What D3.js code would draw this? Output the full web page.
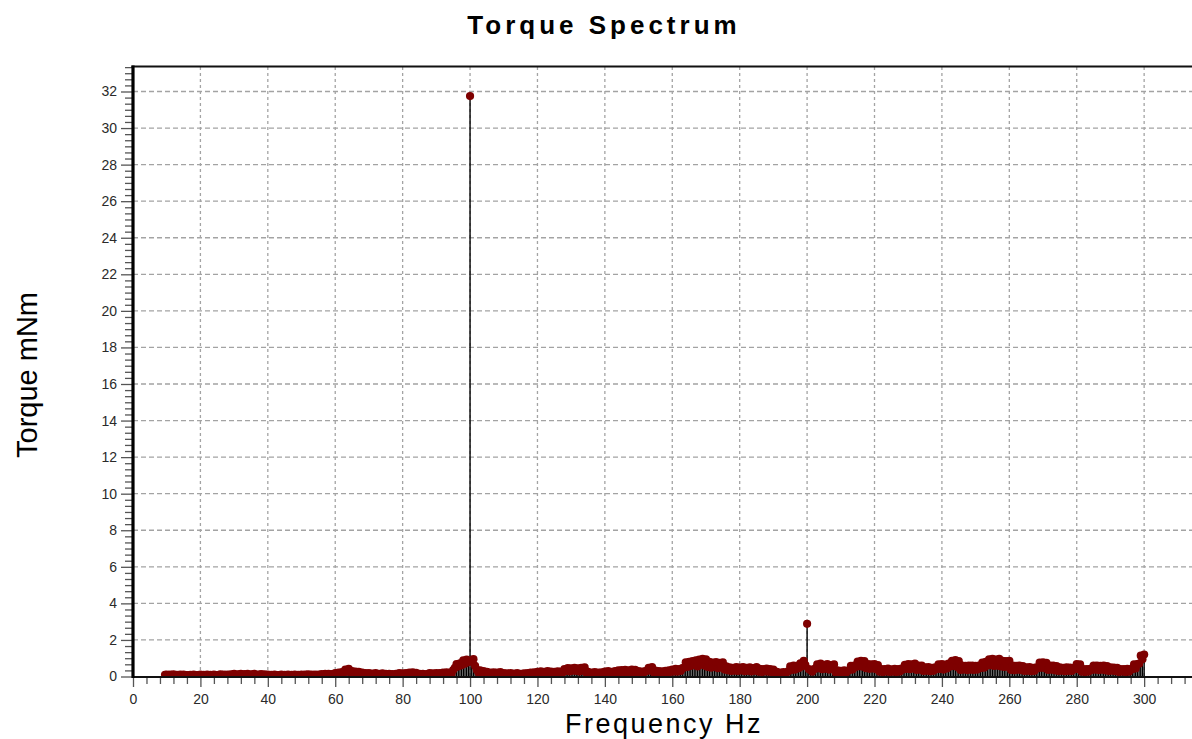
<!DOCTYPE html>
<html>
<head>
<meta charset="utf-8">
<script src="https://cdn.jsdelivr.net/npm/d3@7"></script>
<style>
  body { margin: 0; background: #fff; }
  svg { display: block; }
  text { font-family: "Liberation Sans", Arial, sans-serif; }
</style>
</head>
<body>
<svg id="chart" width="1192" height="739"></svg>
<script>
// Spectrum bins: uniform frequency grid starting at freqStart, spaced by freqStep (Hz)
const freqStart = 9.5;
const freqStep = 0.5;

// Torque magnitude per bin (mNm), one row = 10 Hz
const torqueMag = [
  0.09,0.11,0.06,0.10,0.07,0.12,0.05,0.09,0.08,0.11,0.06,0.10,0.07,0.08,0.05,0.09,0.07,0.10,0.06,0.08, //  9.5 - 19
  0.07,0.10,0.06,0.09,0.08,0.11,0.05,0.09,0.07,0.10,0.06,0.08,0.09,0.12,0.06,0.10,0.07,0.11,0.08,0.12, // 19.5 - 29
  0.09,0.14,0.07,0.12,0.10,0.15,0.08,0.13,0.09,0.14,0.07,0.12,0.10,0.15,0.08,0.11,0.09,0.13,0.07,0.12, // 29.5 - 39
  0.08,0.10,0.06,0.09,0.07,0.11,0.05,0.08,0.07,0.10,0.06,0.09,0.08,0.11,0.06,0.09,0.07,0.10,0.05,0.09, // 39.5 - 49
  0.08,0.11,0.07,0.10,0.09,0.12,0.06,0.10,0.08,0.11,0.07,0.10,0.09,0.13,0.08,0.14,0.10,0.15,0.09,0.13, // 49.5 - 59
  0.11,0.18,0.13,0.22,0.15,0.24,0.20,0.38,0.28,0.42,0.22,0.30,0.18,0.27,0.16,0.25,0.14,0.22,0.12,0.19, // 59.5 - 69
  0.12,0.18,0.10,0.16,0.11,0.19,0.09,0.15,0.10,0.17,0.08,0.14,0.09,0.15,0.10,0.13,0.08,0.14,0.11,0.18, // 69.5 - 79
  0.12,0.17,0.10,0.19,0.13,0.22,0.14,0.23,0.12,0.20,0.10,0.15,0.09,0.14,0.08,0.13,0.10,0.18,0.11,0.17, // 79.5 - 89
  0.12,0.19,0.10,0.18,0.14,0.22,0.12,0.23,0.15,0.21,0.13,0.35,0.48,0.68,0.55,0.72,0.62,0.88,0.70,0.92, // 89.5 - 99
  0.78,31.75,0.82,0.95,0.58,0.36,0.22,0.33,0.18,0.30,0.16,0.25,0.14,0.22,0.15,0.23,0.13,0.21,0.16,0.24, // 99.5 - 109
  0.12,0.18,0.10,0.17,0.13,0.19,0.09,0.16,0.11,0.18,0.10,0.15,0.12,0.17,0.10,0.19,0.13,0.22,0.14,0.23, // 109.5 - 119
  0.16,0.26,0.18,0.28,0.15,0.25,0.19,0.29,0.17,0.27,0.16,0.26,0.18,0.28,0.15,0.27,0.22,0.40,0.30,0.46, // 119.5 - 129
  0.28,0.44,0.32,0.48,0.30,0.45,0.27,0.47,0.33,0.50,0.20,0.26,0.15,0.22,0.14,0.24,0.16,0.21,0.13,0.23, // 129.5 - 139
  0.17,0.27,0.19,0.29,0.16,0.26,0.20,0.30,0.22,0.33,0.21,0.35,0.24,0.37,0.22,0.34,0.25,0.38,0.23,0.36, // 139.5 - 149
  0.20,0.30,0.18,0.27,0.21,0.29,0.30,0.48,0.33,0.52,0.22,0.32,0.20,0.30,0.19,0.28,0.21,0.31,0.22,0.33, // 149.5 - 159
  0.25,0.38,0.27,0.42,0.26,0.40,0.30,0.46,0.48,0.78,0.52,0.80,0.58,0.84,0.62,0.88,0.55,0.92,0.66,0.96, // 159.5 - 169
  0.60,0.94,0.52,0.80,0.48,0.76,0.55,0.79,0.45,0.74,0.50,0.78,0.38,0.55,0.34,0.50,0.30,0.48,0.32,0.52, // 169.5 - 179
  0.30,0.49,0.33,0.52,0.29,0.47,0.31,0.50,0.28,0.46,0.32,0.51,0.27,0.42,0.25,0.40,0.28,0.43,0.26,0.41, // 179.5 - 189
  0.24,0.38,0.16,0.25,0.14,0.22,0.15,0.24,0.13,0.23,0.30,0.55,0.36,0.60,0.38,0.58,0.45,0.72,0.55,0.86, // 189.5 - 199
  0.62,2.88,0.40,0.35,0.26,0.41,0.42,0.66,0.45,0.70,0.40,0.64,0.43,0.68,0.38,0.62,0.41,0.66,0.22,0.34, // 199.5 - 209
  0.20,0.31,0.22,0.33,0.19,0.30,0.35,0.58,0.38,0.60,0.52,0.82,0.56,0.86,0.54,0.84,0.45,0.68,0.42,0.66, // 209.5 - 219
  0.44,0.68,0.40,0.62,0.26,0.41,0.24,0.40,0.27,0.43,0.25,0.39,0.26,0.42,0.24,0.40,0.27,0.43,0.38,0.64, // 219.5 - 229
  0.42,0.68,0.40,0.66,0.44,0.70,0.36,0.59,0.38,0.60,0.30,0.50,0.32,0.52,0.29,0.48,0.31,0.50,0.40,0.66, // 229.5 - 239
  0.42,0.68,0.38,0.65,0.44,0.70,0.55,0.86,0.58,0.90,0.52,0.84,0.36,0.60,0.38,0.58,0.35,0.59,0.37,0.60, // 239.5 - 249
  0.36,0.58,0.38,0.60,0.46,0.76,0.48,0.80,0.60,0.94,0.62,0.96,0.58,0.92,0.60,0.96,0.55,0.86,0.52,0.84, // 249.5 - 259
  0.54,0.86,0.36,0.60,0.34,0.58,0.37,0.60,0.35,0.57,0.30,0.50,0.32,0.52,0.29,0.48,0.31,0.50,0.45,0.76, // 259.5 - 269
  0.48,0.78,0.46,0.74,0.36,0.59,0.38,0.60,0.34,0.57,0.30,0.50,0.32,0.48,0.29,0.50,0.31,0.49,0.30,0.48, // 269.5 - 279
  0.42,0.68,0.40,0.66,0.26,0.41,0.24,0.40,0.27,0.42,0.36,0.59,0.38,0.60,0.35,0.58,0.37,0.59,0.34,0.57, // 279.5 - 289
  0.30,0.50,0.32,0.49,0.29,0.48,0.25,0.41,0.27,0.40,0.24,0.42,0.26,0.41,0.40,0.66,0.44,0.68,0.70,1.14, // 289.5 - 299
  0.95,1.20                                                                                            // 299.5 - 300
];

// Axis ticks and labels
const xMajorTicks = [0,20,40,60,80,100,120,140,160,180,200,220,240,260,280,300];
const xMinorStep = 4;
const yMajorTicks = [0,2,4,6,8,10,12,14,16,18,20,22,24,26,28,30,32];
const yMinorPerMajor = 6;

const chartTitle = "Torque Spectrum";
const xAxisTitle = "Frequency Hz";
const yAxisTitle = "Torque mNm";

// Layout
const W = 1192, H = 739;
const plotLeft = 133, plotTop = 67, plotBottom = 676.5, plotRight = W;
const xMax = 314.2, yMax = 33.34;

const x = d3.scaleLinear().domain([0, xMax]).range([plotLeft, plotRight]);
const y = d3.scaleLinear().domain([0, yMax]).range([plotBottom, plotTop]);

const svg = d3.select("#chart");

svg.append("defs").append("clipPath").attr("id", "plotClip")
  .append("rect")
  .attr("x", plotLeft).attr("y", plotTop)
  .attr("width", plotRight - plotLeft).attr("height", plotBottom - plotTop + 1);

// Grid
const grid = svg.append("g").attr("class", "grid");
grid.selectAll("line.h").data(yMajorTicks.filter(d => d > 0)).join("line")
  .attr("class", "h")
  .attr("x1", plotLeft).attr("x2", plotRight)
  .attr("y1", d => y(d)).attr("y2", d => y(d))
  .attr("stroke", "#a3a3a3").attr("stroke-width", 1.3)
  .attr("stroke-dasharray", "5,3");
grid.selectAll("line.v").data(xMajorTicks.filter(d => d > 0)).join("line")
  .attr("class", "v")
  .attr("x1", d => x(d)).attr("x2", d => x(d))
  .attr("y1", plotTop).attr("y2", plotBottom)
  .attr("stroke", "#a3a3a3").attr("stroke-width", 1.3)
  .attr("stroke-dasharray", "3,3");

// Stem plot: stems underneath, markers on top
const points = torqueMag.map((v, i) => ({ f: freqStart + i * freqStep, v }));
const data = svg.append("g").attr("clip-path", "url(#plotClip)");
data.append("g").attr("class", "stems")
  .selectAll("line").data(points).join("line")
  .attr("x1", d => x(d.f)).attr("x2", d => x(d.f))
  .attr("y1", y(0)).attr("y2", d => y(d.v))
  .attr("stroke", "#000").attr("stroke-width", 1.4);
data.append("g").attr("class", "markers")
  .selectAll("circle").data(points).join("circle")
  .attr("cx", d => x(d.f)).attr("cy", d => y(d.v))
  .attr("r", 4.1)
  .attr("fill", "#7e0000");

// X axis: minor then major ticks
const xMinor = d3.range(0, xMax, xMinorStep).filter(d => d % 20 !== 0);
svg.append("g")
  .attr("transform", `translate(0,${plotBottom + 0.5})`)
  .call(d3.axisBottom(x).tickValues(xMinor).tickSize(7).tickFormat(""))
  .call(g => g.select(".domain").remove())
  .call(g => g.selectAll(".tick line").attr("stroke", "#555").attr("stroke-width", 1.3));
svg.append("g")
  .attr("transform", `translate(0,${plotBottom + 0.5})`)
  .call(d3.axisBottom(x).tickValues(xMajorTicks).tickSize(10).tickPadding(7).tickFormat(d3.format("d")))
  .call(g => g.select(".domain").remove())
  .call(g => g.selectAll(".tick line").attr("stroke", "#555").attr("stroke-width", 1.3))
  .call(g => g.selectAll(".tick text").attr("fill", "#2a2a2a").style("font-size", "14px"));

// Y axis: minor then major ticks
const yMinor = d3.range(0, yMax * yMinorPerMajor / 2)
  .map(k => k * 2 / yMinorPerMajor)
  .filter((d, k) => k % yMinorPerMajor !== 0);
svg.append("g")
  .attr("transform", `translate(${plotLeft},0)`)
  .call(d3.axisLeft(y).tickValues(yMinor).tickSize(8).tickFormat(""))
  .call(g => g.select(".domain").remove())
  .call(g => g.selectAll(".tick line").attr("stroke", "#555").attr("stroke-width", 1.3));
svg.append("g")
  .attr("transform", `translate(${plotLeft},0)`)
  .call(d3.axisLeft(y).tickValues(yMajorTicks).tickSize(12).tickPadding(4).tickFormat(d3.format("d")))
  .call(g => g.select(".domain").remove())
  .call(g => g.selectAll(".tick line").attr("stroke", "#555").attr("stroke-width", 1.3))
  .call(g => g.selectAll(".tick text").attr("fill", "#2a2a2a").style("font-size", "14px"));

// Frame lines
svg.append("line")
  .attr("x1", plotLeft - 1.5).attr("x2", plotRight)
  .attr("y1", plotTop - 0.5).attr("y2", plotTop - 0.5)
  .attr("stroke", "#111").attr("stroke-width", 2);
svg.append("line")
  .attr("x1", plotLeft).attr("x2", plotRight)
  .attr("y1", plotBottom + 0.5).attr("y2", plotBottom + 0.5)
  .attr("stroke", "#111").attr("stroke-width", 2);
svg.append("line")
  .attr("x1", plotLeft).attr("x2", plotLeft)
  .attr("y1", plotTop - 1.5).attr("y2", plotBottom + 1.5)
  .attr("stroke", "#000").attr("stroke-width", 3.2);

// Titles
svg.append("text")
  .attr("x", 604).attr("y", 34)
  .attr("text-anchor", "middle")
  .style("font-size", "26px").style("font-weight", "bold").style("letter-spacing", "4px")
  .attr("fill", "#000")
  .text(chartTitle);
svg.append("text")
  .attr("x", 664).attr("y", 733)
  .attr("text-anchor", "middle")
  .style("font-size", "27px").style("letter-spacing", "2.5px")
  .attr("fill", "#000")
  .text(xAxisTitle);
svg.append("text")
  .attr("transform", "translate(37,375) rotate(-90)")
  .attr("text-anchor", "middle")
  .style("font-size", "29px")
  .attr("fill", "#000")
  .text(yAxisTitle);
</script>
</body>
</html>
